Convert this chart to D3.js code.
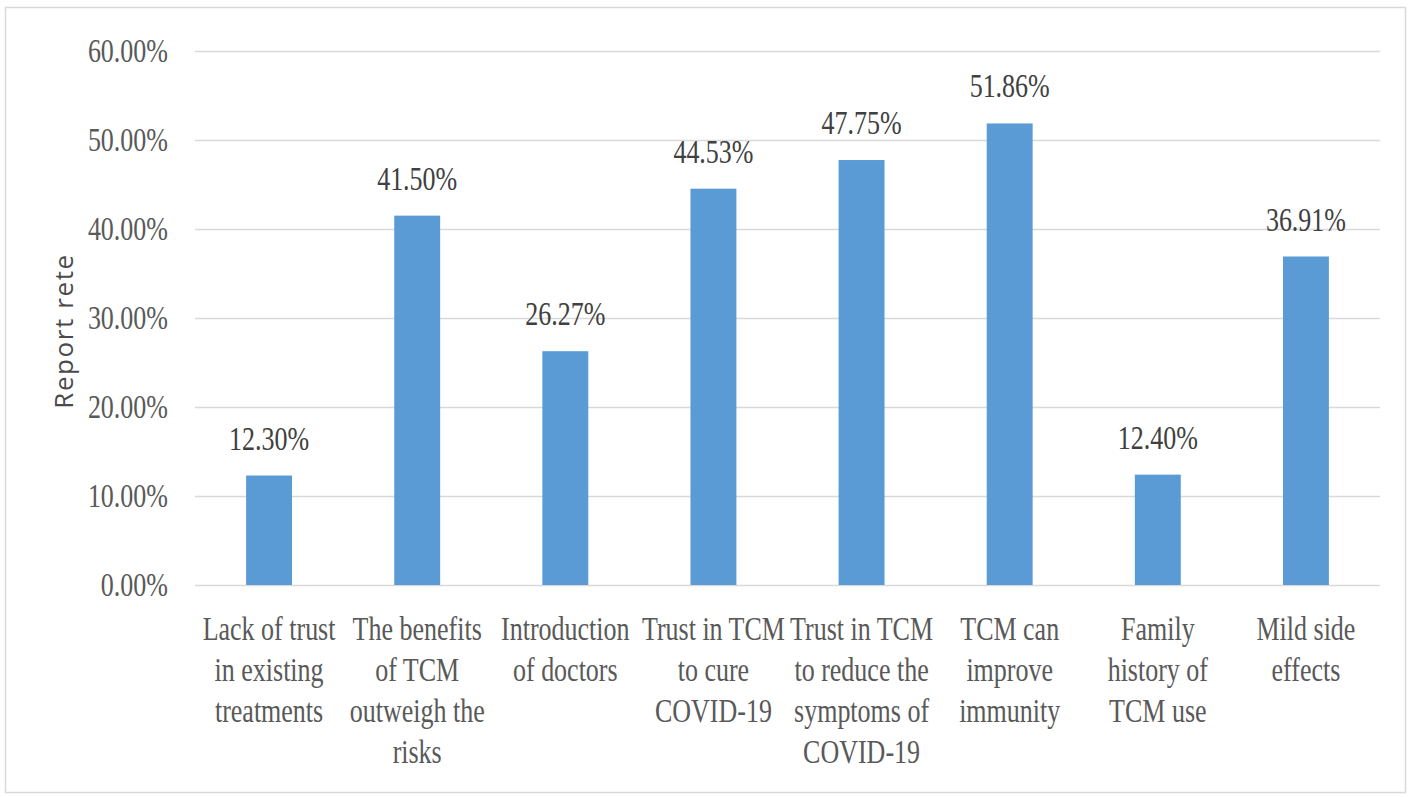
<!DOCTYPE html>
<html>
<head>
<meta charset="utf-8">
<script src="https://cdn.jsdelivr.net/npm/d3@7"></script>
<style>
  html, body { margin: 0; padding: 0; background: #fff; }
  svg { display: block; }
</style>
</head>
<body>
<svg id="chart" width="1416" height="797"></svg>
<script>
// ---- data ----
const categories = [
  "Lack of trust in existing treatments",
  "The benefits of TCM outweigh the risks",
  "Introduction of doctors",
  "Trust in TCM to cure COVID-19",
  "Trust in TCM to reduce the symptoms of COVID-19",
  "TCM can improve immunity",
  "Family history of TCM use",
  "Mild side effects"
];
const categoryLines = [
  ["Lack of trust", "in existing", "treatments"],
  ["The benefits", "of TCM", "outweigh the", "risks"],
  ["Introduction", "of doctors"],
  ["Trust in TCM", "to cure", "COVID-19"],
  ["Trust in TCM", "to reduce the", "symptoms of", "COVID-19"],
  ["TCM can", "improve", "immunity"],
  ["Family", "history of", "TCM use"],
  ["Mild side", "effects"]
];
const values = [0.1230, 0.4150, 0.2627, 0.4453, 0.4775, 0.5186, 0.1240, 0.3691];
const yTicks = [0, 0.1, 0.2, 0.3, 0.4, 0.5, 0.6];
const yTitle = "Report rete";

// ---- drawing ----
const svg = d3.select("#chart");
const SY = 1.27;            // vertical stretch of serif text in the reference
const serif = "'Liberation Serif', 'Times New Roman', serif";

svg.append("rect")
  .attr("x", 5.5).attr("y", 7.5).attr("width", 1400).attr("height", 785)
  .attr("fill", "#fff").attr("stroke", "#d9d9d9").attr("stroke-width", 1.5);

const x = d3.scaleBand().domain(categories).range([195, 1380])
  .paddingInner(0.69).paddingOuter(0.345);
const y = d3.scaleLinear().domain([0, 0.6]).range([585, 51]);

// gridlines
svg.append("g").selectAll("line").data(yTicks).join("line")
  .attr("x1", 195).attr("x2", 1380)
  .attr("y1", d => Math.round(y(d)) + 0.5).attr("y2", d => Math.round(y(d)) + 0.5)
  .attr("stroke", "#d9d9d9").attr("stroke-width", 1.3);

// y tick labels
const fmt = d3.format(".2%");
svg.append("g").selectAll("text").data(yTicks).join("text")
  .attr("transform", d => `translate(168,${y(d) + 11}) scale(1,${SY})`)
  .attr("text-anchor", "end")
  .attr("font-family", serif).attr("font-size", 26)
  .attr("fill", "#595959")
  .text(d => fmt(d));

// bars
svg.append("g").selectAll("rect").data(values).join("rect")
  .attr("x", (d, i) => x(categories[i]))
  .attr("width", x.bandwidth())
  .attr("y", d => y(d))
  .attr("height", d => y(0) - y(d))
  .attr("fill", "#5b9bd5");

// data labels
svg.append("g").selectAll("text").data(values).join("text")
  .attr("transform", (d, i) => `translate(${x(categories[i]) + x.bandwidth() / 2},${y(d) - 26}) scale(1,${SY})`)
  .attr("text-anchor", "middle")
  .attr("font-family", serif).attr("font-size", 26)
  .attr("fill", "#404040")
  .text(d => fmt(d));

// category labels
const cat = svg.append("g").selectAll("text").data(categories).join("text")
  .attr("transform", (d) => `translate(${x(d) + x.bandwidth() / 2},640) scale(1,${SY})`)
  .attr("text-anchor", "middle")
  .attr("font-family", serif).attr("font-size", 26)
  .attr("fill", "#595959");
cat.each(function(d, i) {
  d3.select(this).selectAll("tspan").data(categoryLines[i]).join("tspan")
    .attr("x", 0).attr("dy", (t, j) => j === 0 ? 0 : 41 / SY)
    .text(t => t);
});

// y title
svg.append("text")
  .attr("transform", "translate(73,331) rotate(-90)")
  .attr("text-anchor", "middle")
  .attr("font-family", "'Open Sans', sans-serif").attr("font-size", 26)
  .attr("font-weight", 500)
  .attr("letter-spacing", 1.6)
  .attr("fill", "#4a4a4a")
  .text(yTitle);
</script>
</body>
</html>
